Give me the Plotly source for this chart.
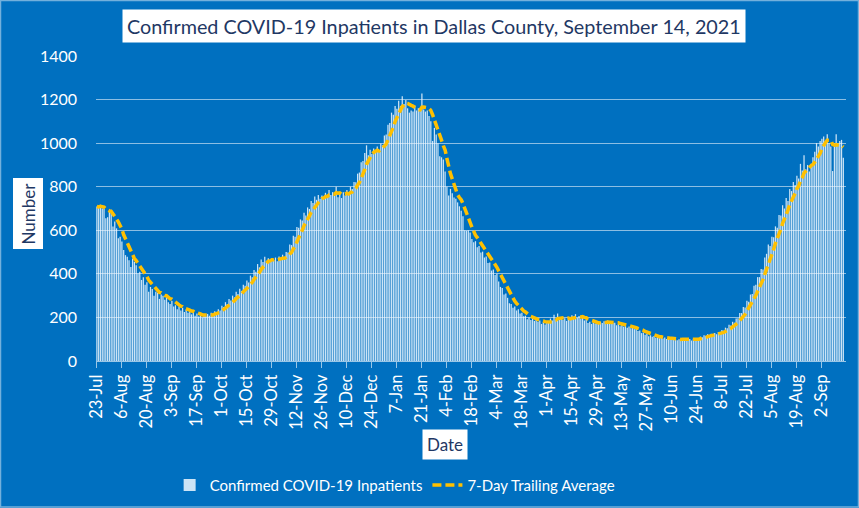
import pandas as pd
import plotly.graph_objects as go

start_date = "2020-07-23"
inpatients = [
    709, 705, 717, 700, 700, 655, 660,
    686, 694, 617, 640, 609, 563, 570,
    548, 509, 486, 478, 463, 432, 470,
    455, 440, 402, 410, 372, 385, 350,
    362, 318, 340, 330, 300, 318, 312,
    285, 305, 300, 281, 296, 270, 262,
    275, 250, 256, 238, 250, 232, 244,
    225, 236, 222, 230, 214, 226, 208,
    218, 204, 212, 200, 214, 206, 216,
    208, 222, 214, 228, 220, 238, 232,
    254, 248, 270, 262, 285, 278, 300,
    292, 318, 308, 332, 322, 350, 345,
    370, 360, 392, 385, 418, 410, 445,
    430, 466, 455, 478, 460, 472, 455,
    470, 462, 475, 458, 480, 465, 488,
    470, 500, 498, 535, 532, 575, 570,
    615, 612, 650, 645, 680, 668, 705,
    698, 735, 725, 755, 740, 762, 745,
    760, 750, 772, 758, 785, 762, 775,
    758, 800, 752, 770, 748, 775, 760,
    785, 775, 800, 790, 822, 820, 860,
    865, 912, 918, 955, 990, 945, 970,
    950, 975, 958, 985, 965, 998, 990,
    1035, 1040, 1085, 1092, 1140, 1130, 1170,
    1158, 1195, 1170, 1215, 1180, 1198, 1160,
    1140, 1150, 1145, 1172, 1150, 1160, 1150,
    1228, 1155, 1145, 1150, 1125, 1100, 1010,
    1070, 1040, 1000, 940, 935, 925, 870,
    800, 760, 790, 770, 750, 745, 728,
    710, 690, 665, 600, 598, 600, 590,
    560, 545, 550, 522, 528, 498, 502,
    475, 480, 450, 452, 415, 420, 395,
    400, 365, 340, 335, 305, 310, 290,
    265, 262, 244, 250, 232, 238, 218,
    222, 205, 208, 192, 200, 188, 196,
    184, 192, 180, 186, 170, 178, 168,
    182, 178, 195, 186, 212, 190, 218,
    192, 200, 188, 196, 184, 202, 194,
    210, 200, 215, 198, 206, 194, 202,
    186, 190, 175, 180, 170, 178, 172,
    179, 171, 180, 174, 183, 176, 186,
    178, 184, 174, 176, 164, 170, 160,
    166, 157, 162, 153, 158, 150, 156,
    146, 148, 138, 140, 128, 131, 120,
    124, 114, 118, 111, 115, 107, 112,
    105, 110, 103, 108, 101, 106, 99,
    104, 97, 101, 95, 100, 96, 104,
    99, 104, 96, 101, 94, 102, 98,
    106, 103, 112, 109, 118, 115, 123,
    118, 125, 121, 128, 123, 133, 131,
    142, 139, 153, 150, 166, 163, 180,
    176, 195, 196, 220, 220, 248, 246,
    276, 272, 305, 308, 345, 350, 385,
    385, 422, 420, 475, 492, 535, 528,
    570, 568, 618, 612, 670, 668, 715,
    700, 748, 735, 790, 780, 822, 808,
    850, 838, 905, 875, 945, 880, 900,
    870, 905, 935, 960, 1000, 985, 1010,
    1020, 1030, 1010, 1041, 1000, 985, 872,
    1000, 1041, 1000, 1010, 1015, 933,
]

dates = pd.date_range(start_date, periods=len(inpatients), freq="D")
avg7 = pd.Series(inpatients).rolling(7, min_periods=1).mean()

y_ticks = [0, 200, 400, 600, 800, 1000, 1200, 1400]

FONT = "Lato"
NAVY = "#1F3864"
BG = "#0070C0"

# plot area geometry (pixels) used to place the text boxes
L, T, W, H = 96, 56, 750, 305


def px(x):
    return (x - L) / W


def py(y):
    return (T + H - y) / H


fig = go.Figure()
fig.add_trace(go.Bar(
    x=dates, y=inpatients, name="Confirmed COVID-19 Inpatients",
    marker=dict(color="rgba(240,248,255,0.85)", line=dict(width=0)),
))
fig.add_trace(go.Scatter(
    x=dates, y=avg7, name="7-Day Trailing Average", mode="lines",
    line=dict(color="#FFC000", width=3.5, dash="9px,4px"),
))

fig.update_layout(
    width=859, height=508,
    paper_bgcolor=BG, plot_bgcolor=BG,
    margin=dict(l=L, r=859 - L - W, t=T, b=508 - T - H),
    bargap=0.3,
    font=dict(family=FONT, color="white", size=15),
    showlegend=True,
    legend=dict(
        orientation="h", xref="container", yref="container",
        x=0.46, xanchor="center", y=0.045, yanchor="middle",
        font=dict(family=FONT, size=15, color="white"),
        bgcolor="rgba(0,0,0,0)", itemwidth=30,
        traceorder="normal",
    ),
    xaxis=dict(
        type="date",
        range=["2020-07-22 12:00", "2021-09-15 12:00"],
        tick0=start_date, dtick=14 * 86400000,
        tickformat="%-d-%b", tickangle=-90,
        ticks="outside", ticklen=6, tickcolor="rgba(255,255,255,0.6)",
        showgrid=False, showline=True, linecolor="rgba(255,255,255,0.6)",
        tickfont=dict(family=FONT, size=16.5, color="white"),
        zeroline=False,
    ),
    yaxis=dict(
        range=[0, 1400], tickvals=y_ticks,
        showgrid=True, gridcolor="rgba(255,255,255,0.55)", gridwidth=1,
        tickfont=dict(family=FONT, size=16, color="white"),
        ticks="", zeroline=False, showline=False,
        ticklabelstandoff=18,
    ),
    annotations=[
        dict(text="Confirmed COVID-19 Inpatients in Dallas County, September 14, 2021",
             x=px(434), y=py(26), xref="paper", yref="paper",
             xanchor="center", yanchor="middle",
             showarrow=False, bgcolor="white", borderpad=4,
             font=dict(family=FONT, size=19.8, color=NAVY)),
        dict(text="Number", textangle=-90,
             x=px(27.5), y=py(214), xref="paper", yref="paper",
             xanchor="center", yanchor="middle",
             showarrow=False, bgcolor="white", borderpad=4,
             font=dict(family=FONT, size=17, color=NAVY)),
        dict(text="Date",
             x=px(444.5), y=py(444), xref="paper", yref="paper",
             xanchor="center", yanchor="middle",
             showarrow=False, bgcolor="white", borderpad=4,
             font=dict(family=FONT, size=17, color=NAVY)),
    ],
    shapes=[
        dict(type="rect", xref="paper", yref="paper",
             x0=px(0.5), x1=px(858.5), y0=py(507), y1=py(0.5),
             line=dict(color="rgba(255,255,255,0.45)", width=1.5),
             fillcolor="rgba(0,0,0,0)", layer="above"),
    ],
)

fig.write_html(
    "out.html",
    config={"displayModeBar": False},
    post_script="document.body.style.margin='0';document.body.style.background='#0070C0';",
)
